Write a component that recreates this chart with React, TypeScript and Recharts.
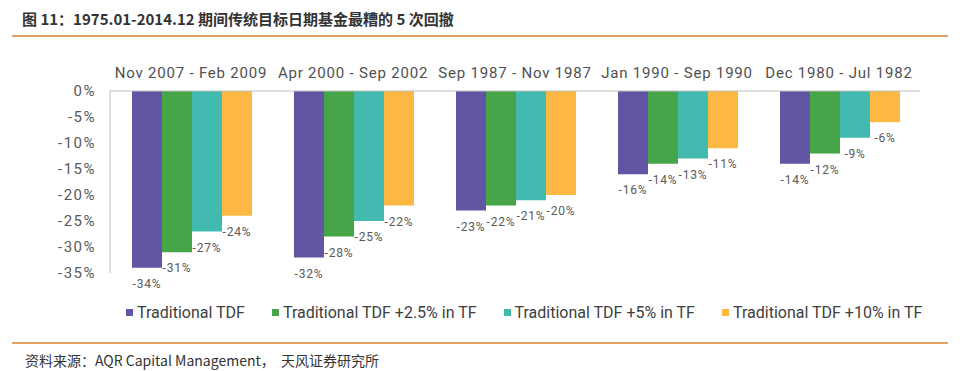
import { Bar, BarChart, XAxis, YAxis } from "recharts";

const periods = [
  "Nov 2007 - Feb 2009",
  "Apr 2000 - Sep 2002",
  "Sep 1987 - Nov 1987",
  "Jan 1990 - Sep 1990",
  "Dec 1980 - Jul 1982",
];
const traditional = [-34, -32, -23, -16, -14];
const plus25 = [-31, -28, -22, -14, -12];
const plus5 = [-27, -25, -21, -13, -9];
const plus10 = [-24, -22, -20, -11, -6];
const yTicks = [0, -5, -10, -15, -20, -25, -30, -35];

const seriesList = [
  { key: "traditional", name: "Traditional TDF", color: "#6255A3" },
  { key: "plus25", name: "Traditional TDF +2.5% in TF", color: "#45A548" },
  { key: "plus5", name: "Traditional TDF +5% in TF", color: "#43BAAF" },
  { key: "plus10", name: "Traditional TDF +10% in TF", color: "#FDB843" },
];

const data = periods.map((p, i) => ({
  period: p,
  traditional: traditional[i],
  plus25: plus25[i],
  plus5: plus5[i],
  plus10: plus10[i],
}));

const chartFont = "Roboto, 'Liberation Sans', sans-serif";
const cjkFont = "'Noto Sans CJK SC', 'Noto Sans', sans-serif";
const rule = "#E59F62";

// label centred under the far end of each (negative) bar
function EndLabel(props: any) {
  const { x, y, width, height, value } = props;
  const bottom = Math.max(y, y + height);
  return (
    <text
      x={x + width / 2}
      y={bottom + 17}
      textAnchor="middle"
      dominantBaseline="middle"
      fill="#595959"
      fontSize={12}
      letterSpacing={0.8}
      fontFamily={chartFont}
    >
      {`${value}%`}
    </text>
  );
}

export default function App() {
  return (
    <div
      style={{
        position: "absolute",
        left: 0,
        top: 0,
        width: 962,
        height: 371,
        background: "#fff",
        overflow: "hidden",
      }}
    >
      <div
        style={{
          position: "absolute",
          left: 22,
          top: 8,
          fontFamily: cjkFont,
          fontWeight: 700,
          fontSize: 15,
          color: "#333",
          whiteSpace: "pre",
        }}
      >
        图 11：1975.01-2014.12 期间传统目标日期基金最糟的 5 次回撤
      </div>
      <div style={{ position: "absolute", left: 12, top: 35, width: 936, height: 1.5, background: rule }} />

      <div style={{ position: "absolute", left: 0, top: 0 }}>
        <BarChart
          width={962}
          height={371}
          data={data}
          margin={{ top: 61, right: 42, bottom: 98, left: 50 }}
          barCategoryGap={22}
          barGap={0}
        >
          <XAxis
            dataKey="period"
            orientation="top"
            height={30}
            tickLine={false}
            tickMargin={7}
            axisLine={{ stroke: "#bfbfbf" }}
            tick={{ fill: "#505050", fontSize: 15, letterSpacing: 0.8, fontFamily: chartFont }}
            interval={0}
          />
          <YAxis
            width={60}
            domain={[-35, 0]}
            ticks={yTicks}
            interval={0}
            tickLine={false}
            tickMargin={8}
            axisLine={{ stroke: "#bfbfbf" }}
            tick={{ fill: "#595959", fontSize: 15, letterSpacing: 1.5, fontFamily: chartFont }}
            tickFormatter={(v: number) => `${v}%`}
          />
          {seriesList.map((s) => (
            <Bar
              key={s.key}
              dataKey={s.key}
              name={s.name}
              fill={s.color}
              isAnimationActive={false}
              label={<EndLabel />}
            />
          ))}
        </BarChart>
      </div>

      <div
        style={{
          position: "absolute",
          left: 126,
          top: 303,
          display: "flex",
          gap: 27,
          fontFamily: chartFont,
          fontSize: 16,
          color: "#404040",
          whiteSpace: "nowrap",
        }}
      >
        {seriesList.map((s) => (
          <div key={s.key} style={{ display: "flex", alignItems: "center", gap: 4 }}>
            <span style={{ width: 7, height: 7, background: s.color, display: "inline-block" }} />
            <span>{s.name}</span>
          </div>
        ))}
      </div>

      <div style={{ position: "absolute", left: 12, top: 342, width: 936, height: 1.5, background: rule }} />
      <div
        style={{
          position: "absolute",
          left: 25,
          top: 350,
          fontFamily: cjkFont,
          fontSize: 14,
          color: "#333",
          whiteSpace: "pre",
        }}
      >
        资料来源：AQR Capital Management，  天风证券研究所
      </div>
    </div>
  );
}
